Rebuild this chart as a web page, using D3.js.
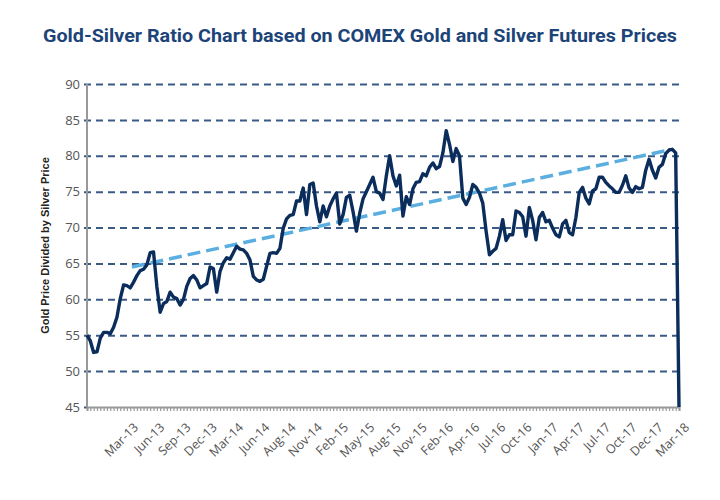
<!DOCTYPE html>
<html><head><meta charset="utf-8">
<script src="https://cdn.jsdelivr.net/npm/d3@7"></script>
<style>body{margin:0;background:#fff} svg{display:block}</style>
</head><body><svg id="c" width="720" height="500"></svg>
<script>
// Gold/silver ratio, one value per minor tick (left to right)
const ratio = [
55.0,54.2,52.6,52.7,54.6,55.4,55.4,55.2,56.1,57.5,
60.1,62.0,61.9,61.6,62.4,63.3,64.0,64.2,64.8,66.5,
66.6,61.8,58.2,59.4,59.7,61.0,60.3,60.1,59.2,60.0,
61.8,62.9,63.3,62.7,61.6,61.9,62.2,64.5,64.3,61.0,
63.9,65.1,65.8,65.6,66.5,67.4,67.0,66.9,66.4,65.5,
63.2,62.7,62.5,62.8,64.6,66.4,66.5,66.4,67.1,69.9,
71.2,71.7,71.8,73.7,73.7,75.5,71.8,76.0,76.2,73.0,
70.8,73.0,71.5,73.0,74.0,74.8,70.5,71.8,74.2,74.5,
72.2,69.5,72.0,74.0,75.0,76.0,77.0,75.0,74.8,73.9,
77.2,80.0,77.2,75.8,77.3,71.6,74.3,73.2,75.4,76.3,
76.4,77.5,77.2,78.4,79.0,78.2,78.5,80.4,83.5,81.6,
79.2,81.0,80.0,74.1,73.2,74.2,76.0,75.6,74.8,73.4,
69.5,66.2,66.7,67.1,68.8,71.1,68.2,69.0,69.0,72.3,
72.1,71.5,68.8,72.8,71.0,68.3,71.4,72.1,70.8,71.0,
69.9,69.0,68.7,70.5,71.0,69.3,69.0,71.4,74.9,75.6,
74.1,73.3,75.1,75.4,77.0,77.0,76.3,75.8,75.4,74.9,
74.9,75.9,77.2,75.5,74.9,75.7,75.4,75.6,78.0,79.5,
78.0,76.9,78.4,78.8,80.3,80.8,80.9,80.4,
45.0
];
const trendIdx = [13.5, 175];
const trendVal = [64.5, 80.8];
const yTicks = [45,50,55,60,65,70,75,80,85,90];
const xLabels = ["Mar-13","Jun-13","Sep-13","Dec-13","Mar-14","Jun-14","Aug-14","Nov-14",
  "Feb-15","May-15","Aug-15","Nov-15","Feb-16","Apr-16","Jul-16","Oct-16","Jan-17",
  "Apr-17","Jul-17","Oct-17","Dec-17","Mar-18"];
const titleText = "Gold-Silver Ratio Chart based on COMEX Gold and Silver Futures Prices";
const yTitle = "Gold Price Divided by Silver Price";

const svg = d3.select("#c");
const L = 87, R = 679, T = 84, B = 407;
const x = d3.scaleLinear().domain([0, ratio.length - 1]).range([L, R]);
const y = d3.scaleLinear().domain([45, 90]).range([B, T]);
const xl = d3.scalePoint().domain(xLabels).range([136, 687]);

// title
svg.append("text").attr("x", 360).attr("y", 42).attr("text-anchor", "middle")
  .attr("font-family", "Roboto, 'Liberation Sans', sans-serif").attr("font-weight", "bold")
  .attr("font-size", 19).attr("fill", "#1c4478")
  .attr("textLength", 634).attr("lengthAdjust", "spacingAndGlyphs").text(titleText);

// y title
svg.append("text").attr("transform", `translate(49,${(T + B) / 2}) rotate(-90)`)
  .attr("text-anchor", "middle").attr("font-family", "'Liberation Sans', Arial, sans-serif")
  .attr("font-weight", "bold").attr("font-size", 11).attr("fill", "#222").text(yTitle);

// grid + y tick labels
const gy = svg.append("g").attr("transform", `translate(84,0)`)
  .call(d3.axisLeft(y).tickValues(yTicks).tickSize(-(R - 84)).tickPadding(4));
gy.select(".domain").remove();
gy.selectAll(".tick line").attr("stroke", "#3a5a86").attr("stroke-width", 2)
  .attr("stroke-dasharray", "7,5")
  .filter(d => d === 45).attr("x2", 3);
gy.selectAll(".tick text").attr("font-family", "'Open Sans', sans-serif")
  .attr("font-size", 13).attr("fill", "#555");

// y axis line
svg.append("line").attr("x1", L).attr("x2", L).attr("y1", y(90)).attr("y2", y(45))
  .attr("stroke", "#999").attr("stroke-width", 2);

// x axis with minor ticks
const gx = svg.append("g").attr("transform", `translate(0,${B})`)
  .call(d3.axisBottom(x).tickValues(d3.range(0, ratio.length)).tickSize(4).tickFormat(""));
gx.select(".domain").attr("stroke", "#999").attr("stroke-width", 2);
gx.selectAll(".tick line").attr("stroke", "#999").attr("stroke-width", 1.2);

// x labels
svg.append("g").selectAll("text").data(xLabels).join("text")
  .attr("transform", d => `translate(${xl(d)},425) rotate(-45)`)
  .attr("text-anchor", "end").attr("dy", "0.35em")
  .attr("font-family", "'Open Sans', sans-serif").attr("font-size", 12.5).attr("fill", "#555")
  .text(d => d);

// trend line
svg.append("path").datum(trendIdx.map((d, i) => [d, trendVal[i]]))
  .attr("d", d3.line().x(d => x(d[0])).y(d => y(d[1])))
  .attr("fill", "none").attr("stroke", "#5aaee0").attr("stroke-width", 3.5)
  .attr("stroke-dasharray", "13,6");

// data line
svg.append("path").datum(ratio)
  .attr("d", d3.line().x((d, i) => x(i)).y(d => y(d)))
  .attr("fill", "none").attr("stroke", "#0b2d5b").attr("stroke-width", 3.4)
  .attr("stroke-linejoin", "round");
</script></body></html>
